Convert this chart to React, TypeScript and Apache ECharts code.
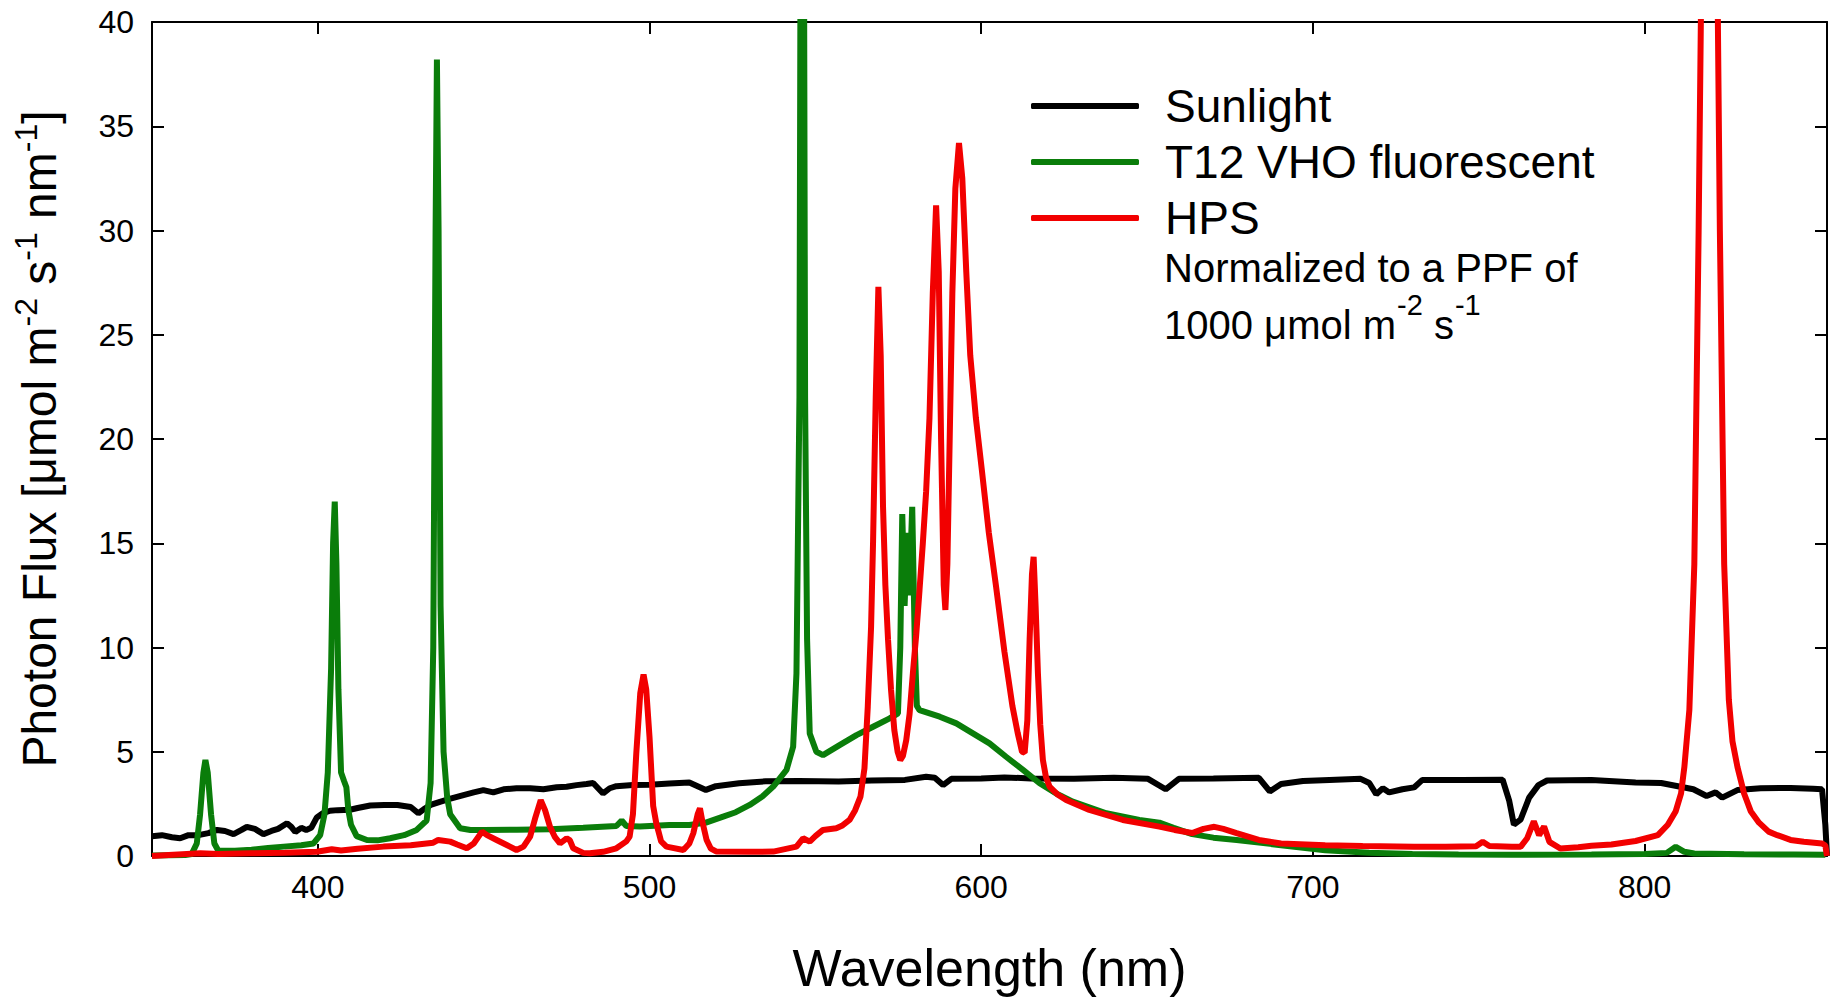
import React, { useEffect, useRef } from "react";
import * as echarts from "echarts";

const FONT = 'Arial, "Liberation Sans", Helvetica, sans-serif';

// Tick positions
const xTicks = [400, 500, 600, 700, 800];

// Sunlight
const sunWl = [350, 353, 356, 358.5, 361, 364, 367, 369.6, 372, 374.6, 377, 378.6, 381, 383.6, 386, 388, 390.7, 392, 393.2, 395, 396.5, 398, 399.7, 401.5, 403.7, 406, 409.7, 412, 415.8, 420, 424, 428, 430.3, 432, 434, 436.8, 440, 443.9, 447, 449.9, 452.9, 456, 459.9, 464, 468, 472, 475, 478, 481, 483, 486, 488, 490, 495, 500, 506, 512, 517, 520, 527, 535, 545, 557, 567, 577, 583.4, 586, 588.5, 591, 600, 607, 615, 628, 640, 650.3, 655.6, 659.6, 670, 683.7, 687, 690.4, 697, 705, 714.4, 717, 719.1, 721.1, 723, 727, 730.5, 733, 745, 757.2, 759.2, 760.6, 762.6, 765.2, 768, 770.6, 784, 797.3, 805, 814.7, 818.7, 821.4, 823.4, 828, 835, 844, 850.8, 853.5, 854.5, 855];
const sunVal = [0.95, 1.0, 0.9, 0.85, 1.0, 1.0, 1.1, 1.25, 1.2, 1.05, 1.25, 1.4, 1.3, 1.05, 1.2, 1.3, 1.57, 1.4, 1.15, 1.35, 1.25, 1.35, 1.85, 2.05, 2.17, 2.2, 2.22, 2.3, 2.42, 2.45, 2.45, 2.35, 2.05, 2.25, 2.45, 2.6, 2.75, 2.92, 3.05, 3.16, 3.05, 3.2, 3.25, 3.25, 3.2, 3.3, 3.32, 3.4, 3.45, 3.5, 3.0, 3.25, 3.35, 3.4, 3.42, 3.48, 3.52, 3.17, 3.35, 3.49, 3.58, 3.6, 3.57, 3.62, 3.65, 3.8, 3.75, 3.4, 3.7, 3.72, 3.77, 3.72, 3.7, 3.75, 3.7, 3.2, 3.7, 3.72, 3.75, 3.1, 3.45, 3.6, 3.65, 3.7, 3.5, 2.96, 3.25, 3.05, 3.2, 3.29, 3.65, 3.65, 3.66, 2.64, 1.5, 1.74, 2.8, 3.4, 3.62, 3.65, 3.53, 3.5, 3.2, 2.88, 3.05, 2.8, 3.16, 3.25, 3.26, 3.22, 3.2, 1.5, 0];

// T12 VHO fluorescent
const fluoWl = [350, 355, 360, 362, 363.5, 364.5, 365.5, 366.1, 366.8, 367.8, 368.8, 370, 375, 380, 385, 389.7, 395, 398.7, 400.7, 402, 403, 404, 404.6, 405.1, 405.6, 406.2, 407, 407.9, 408.6, 409.2, 410, 411.7, 414.8, 418, 421.8, 426, 429.8, 432.8, 434, 434.8, 435.5, 435.9, 436.4, 437, 437.9, 439, 439.9, 442.9, 446, 450, 460, 470, 480, 490, 491.6, 493, 497.1, 506, 512, 517, 522.2, 526, 530.2, 534, 537.3, 541.3, 543.3, 544.3, 545.2, 545.7, 546.4, 546.9, 547.5, 548.3, 550.3, 552.3, 557.3, 562.4, 567.4, 572.4, 574.9, 575.6, 576.2, 576.9, 577.7, 578.3, 579.2, 580, 580.6, 581.4, 587.5, 592.5, 597.5, 602.5, 607.5, 612.6, 617.6, 622.6, 627.6, 637.7, 647.7, 653.7, 658, 663.6, 670, 677, 690.4, 703.7, 717, 730, 743.9, 760, 784, 800, 806.7, 809.4, 812, 815, 830, 845, 854.5];
const fluoVal = [0.02, 0.03, 0.05, 0.1, 0.6, 2.0, 4.0, 4.6, 4.0, 2.0, 0.6, 0.25, 0.25, 0.3, 0.38, 0.45, 0.52, 0.6, 1.0, 2.0, 4.0, 9.0, 15.0, 17.0, 14.0, 8.0, 4.0, 3.6, 3.3, 2.2, 1.5, 0.95, 0.77, 0.75, 0.85, 1.0, 1.25, 1.7, 3.5, 10, 30, 38.2, 30, 12, 5, 2.8, 2.0, 1.33, 1.25, 1.25, 1.26, 1.28, 1.35, 1.44, 1.7, 1.44, 1.41, 1.49, 1.49, 1.6, 1.89, 2.1, 2.45, 2.85, 3.33, 4.13, 5.24, 8.76, 22, 55, 55, 22, 10.4, 5.88, 5.0, 4.84, 5.32, 5.8, 6.2, 6.6, 6.84, 10, 16.4, 12, 15.5, 12.5, 16.75, 10, 7.2, 7.0, 6.68, 6.36, 5.88, 5.4, 4.76, 4.13, 3.49, 3.0, 2.61, 2.05, 1.73, 1.6, 1.35, 1.05, 0.88, 0.77, 0.52, 0.28, 0.16, 0.1, 0.07, 0.06, 0.07, 0.1, 0.15, 0.44, 0.2, 0.12, 0.08, 0.07, 0.06];

// HPS
const hpsWl = [350, 355, 364.6, 370, 379.6, 390, 399.7, 404.2, 407, 412, 419.8, 428, 434.8, 436.3, 439.9, 442, 444.9, 447, 449.5, 451, 453.9, 457.9, 459.9, 462, 464, 465.5, 467.2, 468.5, 470, 471.5, 473, 475, 476, 477, 480, 482, 486, 490, 493, 494, 495, 496, 497.2, 498.2, 499, 500, 501.1, 502, 503.5, 505.1, 510.2, 512, 513.2, 514.5, 515.2, 516, 517.2, 518.5, 520.2, 530, 537.3, 544.3, 546.3, 548.3, 550, 552.3, 556.3, 558, 560.3, 562, 563.6, 564.8, 565.8, 566.8, 567.4, 568.2, 569.0, 569.7, 570.4, 571.1, 571.9, 572.8, 573.8, 574.8, 575.6, 576.4, 577.4, 578.4, 579.4, 580.4, 581.4, 582.4, 583.4, 584.4, 585.4, 586.4, 587.2, 587.9, 588.7, 589.2, 589.8, 590.5, 591.3, 592.2, 593.3, 594.3, 595.5, 596.7, 598.4, 600.2, 602.3, 604.5, 607, 609.4, 611, 612.3, 613.1, 613.9, 614.6, 615.3, 615.8, 616.4, 617.1, 617.8, 618.6, 619.5, 620.6, 623, 625.6, 632.6, 642.7, 653.7, 658.3, 663.6, 667, 670.3, 673, 677, 683.7, 690.4, 703.7, 715, 730.5, 740, 749.2, 751.2, 753.2, 760, 762.6, 764.6, 766.6, 768.2, 769.7, 771.3, 774.6, 780, 784, 790, 797.3, 804, 807, 809.4, 811, 812, 813.5, 815, 816.3, 817.3, 818.5, 819.5, 820.5, 821.8, 822.7, 824, 825.4, 826.5, 828, 830, 832, 834.5, 837.4, 840, 844, 848, 853.5, 854.5, 855];
const hpsVal = [0.0, 0.05, 0.13, 0.1, 0.13, 0.16, 0.2, 0.32, 0.26, 0.35, 0.45, 0.52, 0.64, 0.77, 0.69, 0.55, 0.37, 0.6, 1.17, 1.0, 0.77, 0.45, 0.29, 0.45, 0.93, 1.8, 2.68, 2.2, 1.4, 0.9, 0.6, 0.85, 0.75, 0.37, 0.15, 0.13, 0.2, 0.37, 0.7, 0.93, 2, 4.9, 7.8, 8.7, 8, 5.7, 2.4, 1.6, 0.7, 0.45, 0.29, 0.6, 1.09, 2.0, 2.29, 1.6, 0.77, 0.35, 0.21, 0.2, 0.21, 0.45, 0.85, 0.69, 0.95, 1.25, 1.33, 1.45, 1.73, 2.2, 2.85, 4.2, 7.16, 11, 15.1, 22, 27.3, 24, 16.75, 13, 10.4, 8, 6.04, 5.0, 4.6, 4.8, 5.56, 6.8, 8.76, 10.6, 12.75, 15, 17.5, 21, 27, 31.2, 28, 20, 13, 11.8, 14, 20, 27, 32, 34.2, 32.5, 28, 24, 21, 18.5, 15.5, 12.9, 9.8, 7.2, 5.9, 5.0, 4.95, 6.5, 10.4, 13.5, 14.35, 12, 8.76, 6.3, 4.6, 3.8, 3.33, 2.95, 2.69, 2.21, 1.73, 1.41, 1.25, 1.1, 1.3, 1.4, 1.3, 1.1, 0.77, 0.6, 0.52, 0.48, 0.44, 0.44, 0.47, 0.68, 0.48, 0.44, 0.44, 0.85, 1.66, 1.0, 1.42, 0.68, 0.36, 0.42, 0.49, 0.55, 0.72, 1.0, 1.5, 2.15, 3.0, 4.27, 7, 14, 30, 45, 60, 55, 60, 45, 30, 14, 7.5, 5.5, 4.27, 3.0, 2.15, 1.6, 1.17, 1.0, 0.77, 0.68, 0.6, 0.5, 0.0];

// Annotation pieces: [text, isSuperscript]
const noteLine1 = "Normalized to a PPF of";
const noteLine2: [string, boolean][] = [["1000 μmol m", false], ["-2", true], [" s", false], ["-1", true]];

const zip = (a: number[], b: number[]) => a.map((v, i) => [v, b[i]]);

const axisLineStyle = { color: "#000", width: 2 };

function measure(text: string, size: number): number {
  const c = document.createElement("canvas").getContext("2d");
  if (!c) return text.length * size * 0.55;
  c.font = `${size}px ${FONT}`;
  return c.measureText(text).width;
}

export default function App() {
  const ref = useRef<HTMLDivElement>(null);
  useEffect(() => {
    if (!ref.current) return;
    const chart = echarts.init(ref.current, null, { renderer: "svg" });
    const tickCommon = { show: true, inside: true, length: 12, lineStyle: axisLineStyle };

    const MAIN = 40, SUP = 29;
    const noteX = 1164, line1Y = 268, line2Y = 325, supY = 305;
    let cx = noteX;
    const line2Elems = noteLine2.map(([t, sup]) => {
      const el = {
        type: "text", x: cx, y: sup ? supY : line2Y,
        style: { text: t, fontSize: sup ? SUP : MAIN, fontFamily: FONT, fill: "#000", verticalAlign: "middle", align: "left" },
      };
      cx += measure(t, sup ? SUP : MAIN) + (sup ? 0 : 1);
      return el;
    });

    chart.setOption({
      animation: false,
      backgroundColor: "#ffffff",
      grid: { left: 152, top: 22, right: 16, bottom: 144, containLabel: false },
      xAxis: [
        {
          type: "value", min: 350, max: 855, position: "bottom",
          axisLine: { show: true, onZero: false, lineStyle: axisLineStyle },
          axisTick: { ...tickCommon, customValues: xTicks },
          axisLabel: { customValues: xTicks, fontSize: 32, color: "#000", fontFamily: FONT, margin: 15 },
          splitLine: { show: false },
          name: "Wavelength (nm)", nameLocation: "middle", nameGap: 86,
          nameTextStyle: { fontSize: 52, color: "#000", fontFamily: FONT },
        },
        {
          type: "value", min: 350, max: 855, position: "top",
          axisLine: { show: true, onZero: false, lineStyle: axisLineStyle },
          axisTick: { ...tickCommon, customValues: xTicks },
          axisLabel: { show: false },
          splitLine: { show: false },
        },
      ],
      yAxis: [
        {
          type: "value", min: 0, max: 40, interval: 5, position: "left",
          axisLine: { show: true, onZero: false, lineStyle: axisLineStyle },
          axisTick: tickCommon,
          axisLabel: { fontSize: 32, color: "#000", fontFamily: FONT, margin: 18 },
          splitLine: { show: false },
          name: "{n|Photon Flux [μmol m}{s|-2}{n| s}{s|-1}{n| nm}{s|-1}{n|]}",
          nameLocation: "middle", nameGap: 84,
          nameTextStyle: {
            fontSize: 48, color: "#000", fontFamily: FONT,
            rich: {
              n: { fontSize: 48, color: "#000", fontFamily: FONT },
              s: { fontSize: 32, color: "#000", fontFamily: FONT, padding: [0, 0, 26, 0] },
            },
          },
        },
        {
          type: "value", min: 0, max: 40, interval: 5, position: "right",
          axisLine: { show: true, onZero: false, lineStyle: axisLineStyle },
          axisTick: tickCommon,
          axisLabel: { show: false },
          splitLine: { show: false },
        },
      ],
      legend: {
        orient: "vertical", left: 1026, top: 76,
        itemWidth: 108, itemHeight: 6, icon: "roundRect", itemGap: 6,
        textStyle: { fontSize: 46, color: "#000", fontFamily: FONT, lineHeight: 50, padding: [0, 0, 0, 21] },
        data: ["Sunlight", "T12 VHO fluorescent", "HPS"],
      },
      graphic: [
        {
          type: "text", x: noteX, y: line1Y,
          style: { text: noteLine1, fontSize: MAIN, fontFamily: FONT, fill: "#000", verticalAlign: "middle", align: "left" },
        },
        ...line2Elems,
      ],
      series: [
        { name: "Sunlight", type: "line", data: zip(sunWl, sunVal), showSymbol: false, symbol: "none", clip: true, lineStyle: { color: "#000000", width: 6 }, itemStyle: { color: "#000000" } },
        { name: "T12 VHO fluorescent", type: "line", data: zip(fluoWl, fluoVal), showSymbol: false, symbol: "none", clip: true, lineStyle: { color: "#0a7d0a", width: 6 }, itemStyle: { color: "#0a7d0a" } },
        { name: "HPS", type: "line", data: zip(hpsWl, hpsVal), showSymbol: false, symbol: "none", clip: true, lineStyle: { color: "#f20000", width: 6 }, itemStyle: { color: "#f20000" } },
      ],
    });
    return () => chart.dispose();
  }, []);
  return <div ref={ref} style={{ position: "fixed", left: 0, top: 0, width: "1843px", height: "1000px", background: "#fff" }} />;
}
